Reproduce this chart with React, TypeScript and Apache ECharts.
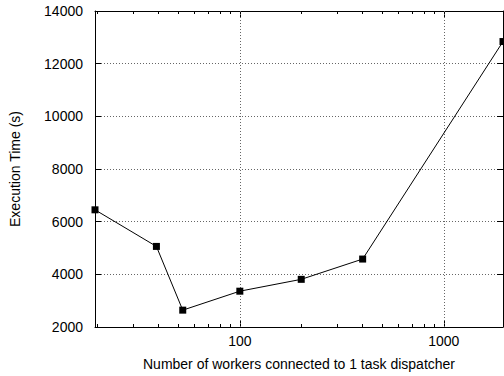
import React, { useEffect, useRef } from "react";
import * as echarts from "echarts";

const workers = [19.5, 39, 52.5, 100, 200, 400, 1950];
const execTime = [6450, 5060, 2640, 3360, 3810, 4580, 12840];
const xMajorTicks = [100, 1000];
const xMinorTicks = [20, 30, 40, 50, 60, 70, 80, 90, 200, 300, 400, 500, 600, 700, 800, 900];
const xTitle = "Number of workers connected to 1 task dispatcher";
const yTitle = "Execution Time (s)";

const FONT = "Liberation Sans";
const FS = 14;

export default function App() {
  const ref = useRef<HTMLDivElement>(null);
  useEffect(() => {
    if (!ref.current) return;
    const chart = echarts.init(ref.current, null, { renderer: "svg" });
    const black = "#000";
    const gridLine = { color: "#666", type: [1, 2], width: 1 };
    const baseX = {
      type: "log" as const,
      logBase: 10,
      min: 19.5,
      max: 1950,
    };
    chart.setOption({
      animation: false,
      grid: { left: 95, right: 1, top: 11, bottom: 49, containLabel: false },
      xAxis: [
        {
          ...baseX,
          position: "bottom",
          name: xTitle,
          nameLocation: "middle",
          nameGap: 30,
          nameTextStyle: { fontFamily: FONT, fontSize: FS, color: black },
          axisLine: { show: true, lineStyle: { color: black, width: 1 } },
          axisTick: { show: true, inside: true, length: 6, customValues: xMajorTicks, lineStyle: { color: black } },
          axisLabel: {
            show: true,
            customValues: xMajorTicks,
            margin: 7,
            fontFamily: FONT,
            fontSize: FS,
            color: black,
            formatter: (v: number) => String(Math.round(v)),
          },
          splitLine: { show: false },
        },
        {
          ...baseX,
          position: "bottom",
          axisLine: { show: false },
          axisTick: { show: true, inside: true, length: 3, customValues: xMinorTicks, lineStyle: { color: black } },
          axisLabel: { show: false },
          splitLine: { show: false },
        },
        {
          ...baseX,
          position: "top",
          axisLine: { show: true, lineStyle: { color: black, width: 1 } },
          axisTick: { show: true, inside: true, length: 6, customValues: xMajorTicks, lineStyle: { color: black } },
          axisLabel: { show: false },
          splitLine: { show: false },
        },
        {
          ...baseX,
          position: "top",
          axisLine: { show: false },
          axisTick: { show: true, inside: true, length: 3, customValues: xMinorTicks, lineStyle: { color: black } },
          axisLabel: { show: false },
          splitLine: { show: false },
        },
      ],
      yAxis: [
        {
          type: "value",
          position: "left",
          min: 2000,
          max: 14000,
          interval: 2000,
          name: yTitle,
          nameLocation: "middle",
          nameGap: 73,
          nameTextStyle: { fontFamily: FONT, fontSize: FS, color: black },
          axisLine: { show: true, lineStyle: { color: black, width: 1 } },
          axisTick: { show: true, inside: true, length: 6, lineStyle: { color: black } },
          axisLabel: {
            margin: 12,
            fontFamily: FONT,
            fontSize: FS,
            color: black,
            formatter: (v: number) => String(v),
          },
          splitLine: { show: true, showMinLine: false, showMaxLine: false, lineStyle: gridLine },
        },
        {
          type: "value",
          position: "right",
          min: 2000,
          max: 14000,
          interval: 2000,
          axisLine: { show: true, lineStyle: { color: black, width: 1 } },
          axisTick: { show: true, inside: true, length: 6, lineStyle: { color: black } },
          axisLabel: { show: false },
          splitLine: { show: false },
        },
      ],
      series: [
        {
          type: "line",
          xAxisIndex: 0,
          yAxisIndex: 0,
          data: workers.map((w, i) => [w, execTime[i]]),
          symbol: "rect",
          symbolSize: 7,
          showAllSymbol: true,
          clip: false,
          z: 5,
          itemStyle: { color: black },
          lineStyle: { color: black, width: 1 },
          markLine: {
            silent: true,
            symbol: ["none", "none"],
            label: { show: false },
            lineStyle: gridLine,
            z: 1,
            data: xMajorTicks.map((v) => ({ xAxis: v })),
          },
        },
      ],
    });
    return () => chart.dispose();
  }, []);
  return <div ref={ref} style={{ width: 504, height: 376, position: "absolute", left: 0, top: 0 }} />;
}
